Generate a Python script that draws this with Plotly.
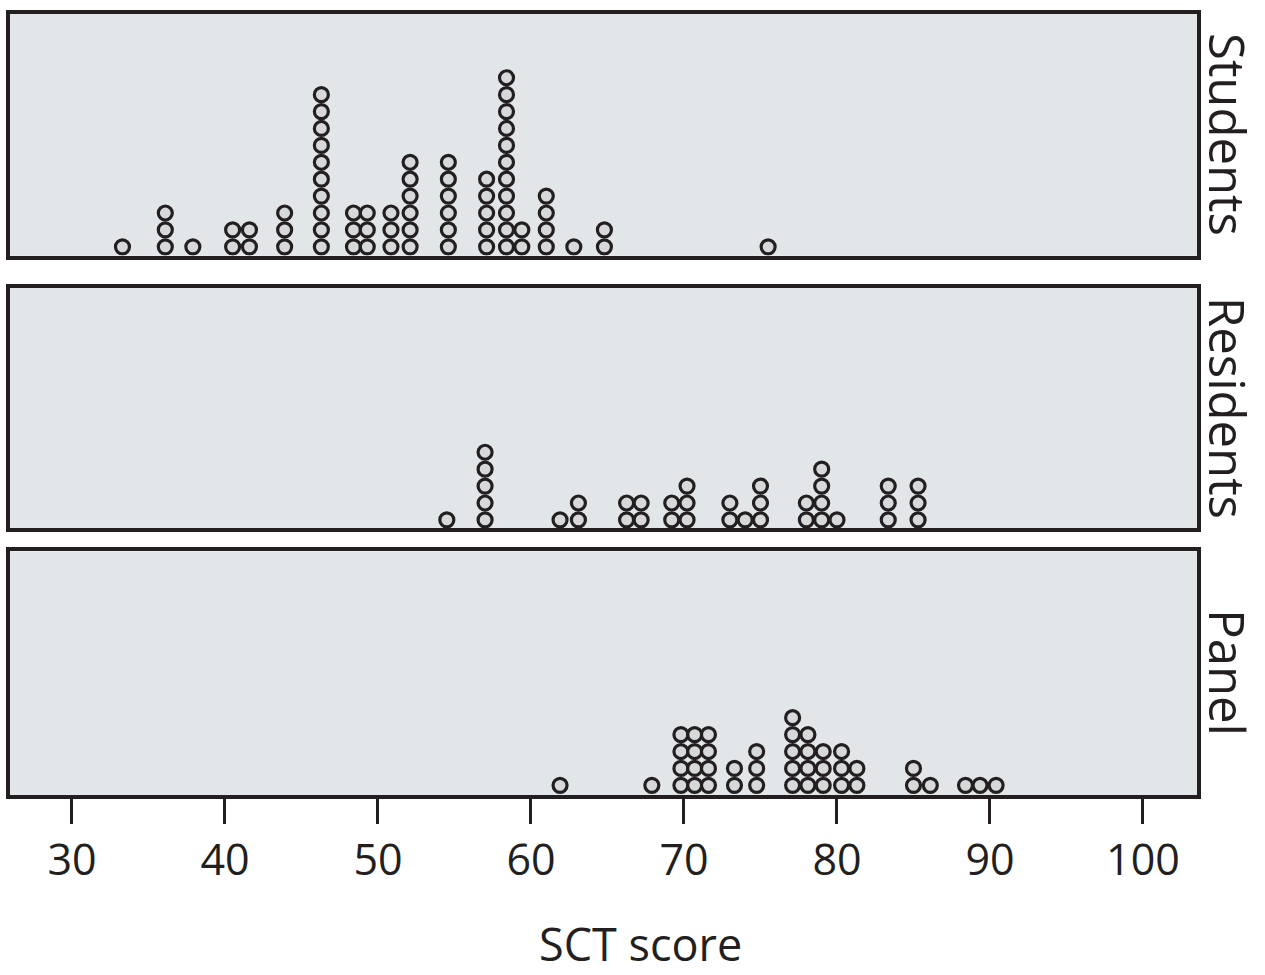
import plotly.graph_objects as go

# Dot plot: score positions (bin centres) and number of stacked dots at each
students_scores = [33.3, 36.1, 37.9, 40.5, 41.6, 43.9, 46.3, 48.4, 49.3, 50.85,
                   52.1, 54.6, 57.1, 58.4, 59.4, 61.0, 62.8, 64.8, 75.5]
students_counts = [1, 3, 1, 2, 2, 3, 10, 3, 3, 3, 6, 6, 5, 11, 2, 4, 1, 2, 1]

residents_scores = [54.5, 57.0, 61.9, 63.1, 66.25, 67.2, 69.2, 70.2, 73.0, 74.0,
                    75.0, 78.0, 79.0, 80.0, 83.35, 85.3]
residents_counts = [1, 5, 1, 2, 2, 2, 2, 3, 2, 1, 3, 2, 4, 1, 3, 3]

panel_scores = [61.9, 67.9, 69.8, 70.7, 71.6, 73.3, 74.75, 77.1, 78.1, 79.1,
                80.3, 81.3, 85.0, 86.1, 88.4, 89.35, 90.4]
panel_counts = [1, 1, 4, 4, 4, 2, 3, 5, 4, 3, 3, 2, 2, 1, 1, 1, 1]

group_labels = ["Students", "Residents", "Panel"]
tick_values = [30, 40, 50, 60, 70, 80, 90, 100]
x_title = "SCT score"

FONT = "Open Sans"
INK = "#231f20"
BG = "#e3e6e9"
DOT = "#d6d8da"

def expand(scores, counts):
    xs, ys = [], []
    for s, c in zip(scores, counts):
        for k in range(1, c + 1):
            xs.append(s)
            ys.append(k)
    return xs, ys

groups = [(students_scores, students_counts),
          (residents_scores, residents_counts),
          (panel_scores, panel_counts)]

fig = go.Figure()
axis_ids = ["", "2", "3"]
for (sc, ct), aid in zip(groups, axis_ids):
    xs, ys = expand(sc, ct)
    fig.add_trace(go.Scatter(
        x=xs, y=ys, mode="markers",
        xaxis="x" + aid, yaxis="y" + aid,
        marker=dict(symbol="circle", size=14, color=DOT,
                    line=dict(color=INK, width=3.2)),
        showlegend=False, hoverinfo="x"))

xrange = [25.95, 103.53]
domains = [[0.6904, 1.0], [0.3414, 0.6497], [0.0, 0.3121]]
yranges = [[0.47, 14.77], [0.50, 14.74], [0.43, 14.84]]

layout = dict(
    width=1265, height=975,
    margin=dict(l=10, r=68, t=10, b=180),
    paper_bgcolor="white", plot_bgcolor=BG,
    font=dict(family=FONT, color=INK),
)
for i, aid in enumerate(axis_ids):
    xa = dict(range=xrange, domain=[0, 1], showgrid=False, zeroline=False,
              showline=True, linecolor=INK, linewidth=3.5, mirror=True,
              anchor="y" + aid, fixedrange=True)
    if aid == "3":
        xa.update(tickmode="array", tickvals=tick_values,
                  ticktext=[str(t) for t in tick_values],
                  ticks="outside", ticklen=25, tickwidth=2.5, tickcolor=INK,
                  tickfont=dict(family=FONT, size=43, color=INK))
    else:
        xa.update(showticklabels=False, ticks="", matches="x3")
    ya = dict(range=yranges[i], domain=domains[i], showgrid=False, zeroline=False,
              showline=True, linecolor=INK, linewidth=3.5, mirror=True,
              showticklabels=False, ticks="", anchor="x" + aid, fixedrange=True)
    layout["xaxis" + aid] = xa
    layout["yaxis" + aid] = ya

fig.update_layout(**layout)

for lab, dom in zip(group_labels, domains):
    fig.add_annotation(text=lab, xref="paper", yref="paper",
                       x=1.026, y=(dom[0] + dom[1]) / 2,
                       xanchor="center", yanchor="middle", textangle=90,
                       showarrow=False,
                       font=dict(family=FONT, size=49, color=INK))

fig.add_annotation(text=x_title, xref="paper", yref="paper",
                   x=0.531, y=-0.19, xanchor="center", yanchor="middle",
                   showarrow=False, font=dict(family=FONT, size=45, color=INK))

fig.write_html("out.html",
               config={"displayModeBar": False},
               post_script="document.body.style.margin='0';document.body.style.overflow='hidden';")
